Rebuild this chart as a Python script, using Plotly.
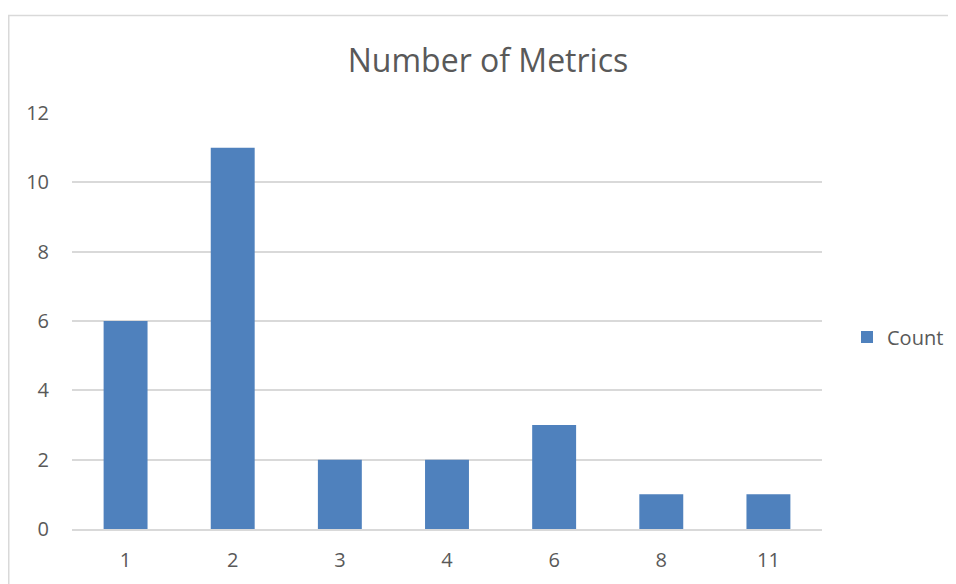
import plotly.graph_objects as go

categories = ["1", "2", "3", "4", "6", "8", "11"]
counts = [6, 11, 2, 2, 3, 1, 1]
y_ticks = [0, 2, 4, 6, 8, 10, 12]
series_name = "Count"
title_text = "Number of Metrics"

FONT = "Open Sans"
TXT = "#595959"

W, H = 948, 576
L, T = 64, 105
PW, PH = 750, 416

fig = go.Figure()
fig.add_trace(go.Bar(x=categories, y=counts, name=series_name,
                     marker=dict(color="#4F81BD", line=dict(width=0))))

fig.update_layout(
    width=W, height=H,
    margin=dict(l=L, r=W - L - PW, t=T, b=H - T - PH, autoexpand=False),
    paper_bgcolor="white", plot_bgcolor="white",
    font=dict(family=FONT, color=TXT, size=20),
    title=dict(text=title_text, x=480 / W, xref="container", xanchor="center",
               y=1 - 53 / H, yref="container", yanchor="middle",
               font=dict(size=32, color=TXT, family=FONT)),
    bargap=0.59,
    showlegend=True,
    legend=dict(x=(839 - L) / PW, xanchor="left", y=0.4615, yanchor="middle",
                font=dict(size=20, color=TXT), itemwidth=30,
                bgcolor="rgba(0,0,0,0)"),
)
fig.update_xaxes(type="category", showgrid=False, showline=True, linecolor="#D9D9D9",
                 linewidth=1.5, ticks="", tickfont=dict(size=20, color=TXT),
                 ticklabelstandoff=12)
fig.update_yaxes(range=[0, 12], tickvals=y_ticks, showgrid=True, gridcolor="#D9D9D9",
                 gridwidth=1.5, zeroline=False, showline=False, ticks="",
                 tickfont=dict(size=20, color=TXT), ticklabelstandoff=22)

fig.add_shape(type="rect", xref="paper", yref="paper",
              x0=(0.75 - L) / PW, x1=1.25, y0=-0.3, y1=(T + PH - 7.5) / PH,
              line=dict(color="#D9D9D9", width=1.5), fillcolor="rgba(0,0,0,0)",
              layer="below")

fig.write_html("out.html")
